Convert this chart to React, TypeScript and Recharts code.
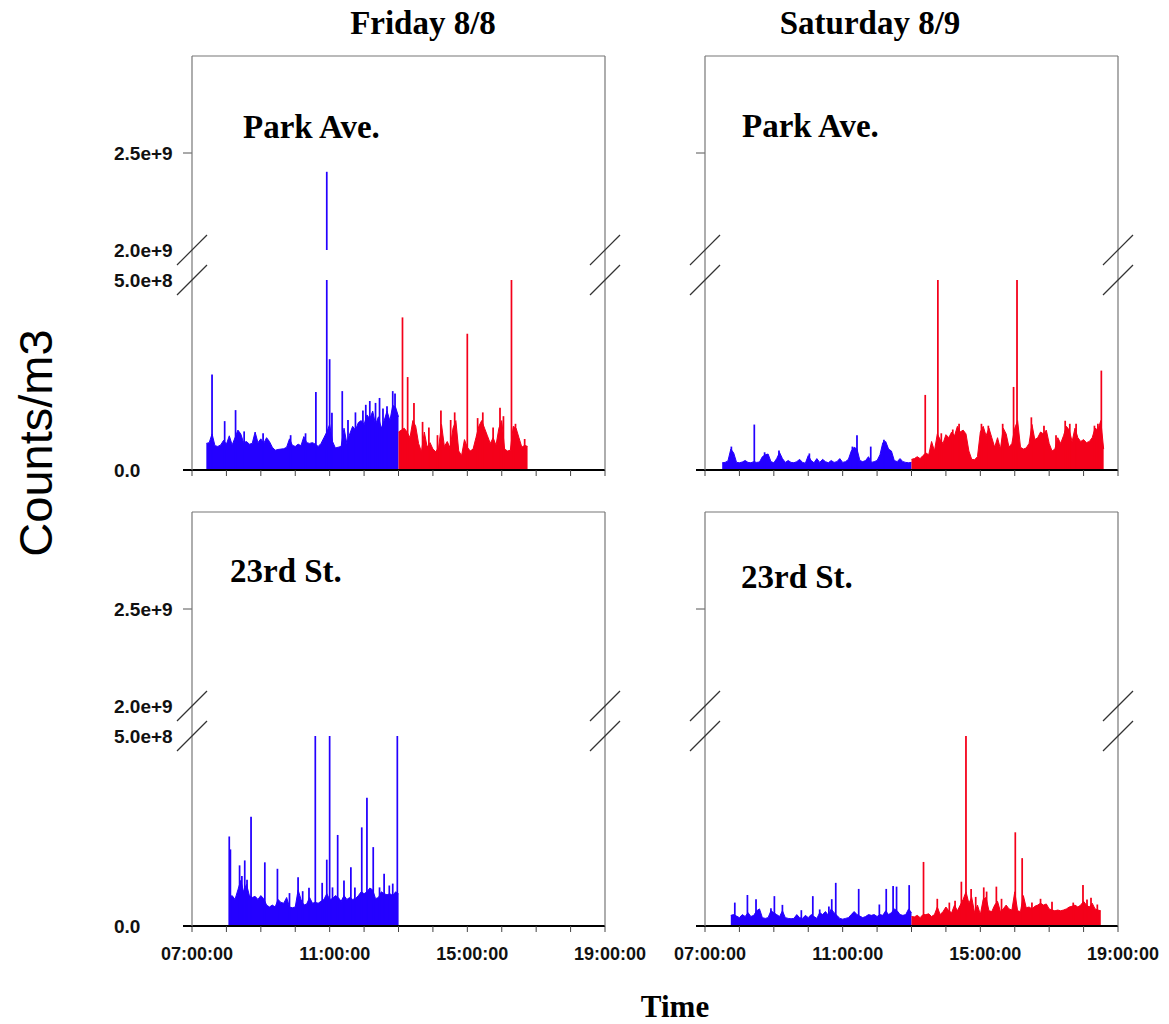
import React from "react";
import { ComposedChart, Area, Bar, XAxis, YAxis } from "recharts";

// values below are in units of 1e8 counts/m3, baselines sampled every 5 minutes
const UNIT = 1e8;
const STEP_MIN = 5;
const HOURS = [7, 8, 9, 10, 11, 12, 13, 14, 15, 16, 17, 18, 19];
const LABELED_HOURS = [7, 11, 15, 19];
const UPPER_TICKS = [2.0e9, 2.5e9];
const LOWER_TICKS = [0, 5.0e8];

// Friday 8/8 - Park Ave.
const friParkBlueStart = "07:25";
const friParkBlue = [
  0.7, 0.72, 0.95, 0.64, 0.62, 0.66, 0.78, 0.68, 0.9, 0.66,
  0.85, 1.05, 0.95, 0.72, 0.75, 0.68, 0.7, 1.0, 0.72, 0.82,
  0.7, 0.85, 0.75, 0.6, 0.52, 0.54, 0.55, 0.56, 0.6, 0.82,
  0.65, 0.62, 0.68, 0.64, 0.88, 0.72, 0.7, 0.72, 0.68, 0.62,
  0.7, 0.85, 1.0, 1.2, 0.75, 0.58, 0.6, 0.62, 1.1, 0.7,
  0.95, 1.15, 1.05, 1.25, 1.3, 1.2, 1.45, 1.35, 1.55, 1.2,
  1.4, 1.1, 1.3, 1.55, 1.3, 1.7, 1.65, 1.4,
];
const friParkRedStart = "13:00";
const friParkRed = [
  1.0, 1.05, 1.1, 1.0, 0.85, 1.3, 1.15, 0.7, 0.48, 1.0,
  0.6, 0.72, 0.55, 0.48, 0.6, 1.2, 0.62, 0.75, 0.58, 1.1,
  1.3, 0.5, 0.38, 0.8, 0.6, 0.5, 0.55, 0.85, 1.15, 1.3,
  1.1, 0.9, 0.7, 0.85, 0.65, 1.1, 1.3, 0.55, 0.5, 0.52,
  1.15, 1.1, 0.85, 0.6, 0.65, 0.62,
];
const friParkBlueSpikeTimes = [
  "07:35", "07:57", "08:16", "08:31", "09:04", "09:52", "10:18", "10:36", "10:55", "11:00",
  "11:04", "11:22", "11:32", "11:45", "11:58", "12:03", "12:10", "12:20", "12:27", "12:33",
  "12:40", "12:50", "12:54",
];
const friParkBlueSpikes = [
  2.5, 1.27, 1.56, 1.0, 0.95, 0.9, 0.95, 2.04, 24.0, 2.9,
  1.49, 2.06, 1.3, 1.5, 1.55, 1.7, 1.8, 1.75, 1.88, 1.6,
  1.66, 2.06, 2.0,
];
const friParkRedSpikeTimes = [
  "13:07", "13:16", "13:27", "13:42", "13:53", "14:08", "14:14", "14:31", "14:38", "15:00",
  "15:18", "15:27", "15:45", "15:57", "16:03", "16:17", "16:24", "16:40",
];
const friParkRedSpikes = [
  4.0, 2.43, 1.75, 1.25, 1.1, 0.9, 1.55, 1.3, 1.5, 3.57,
  1.35, 1.5, 1.1, 1.62, 1.4, 5.2, 1.2, 0.8,
];

// Saturday 8/9 - Park Ave.
const satParkBlueStart = "07:30";
const satParkBlue = [
  0.19, 0.2, 0.24, 0.55, 0.45, 0.2, 0.19, 0.21, 0.25, 0.2,
  0.19, 0.22, 0.2, 0.21, 0.35, 0.4, 0.42, 0.22, 0.19, 0.3,
  0.46, 0.3, 0.2, 0.25, 0.2, 0.19, 0.22, 0.28, 0.2, 0.18,
  0.38, 0.25, 0.19, 0.3, 0.2, 0.28, 0.22, 0.19, 0.25, 0.2,
  0.22, 0.3, 0.2, 0.22, 0.28, 0.5, 0.6, 0.55, 0.25, 0.22,
  0.25, 0.35, 0.2, 0.22, 0.25, 0.4, 0.72, 0.75, 0.55, 0.5,
  0.25, 0.22, 0.3, 0.22, 0.2, 0.19, 0.2,
];
const satParkRedStart = "13:00";
const satParkRed = [
  0.28, 0.3, 0.35, 0.3, 0.38, 0.45, 0.4, 0.75, 0.5, 0.95,
  0.8, 0.7, 0.93, 0.85, 1.0, 0.9, 1.15, 1.0, 1.05, 0.95,
  0.5, 0.28, 0.27, 0.35, 1.0, 1.15, 0.9, 1.1, 0.85, 0.6,
  0.85, 0.55, 1.1, 0.95, 0.6, 0.7, 1.1, 1.3, 0.6, 0.55,
  0.58, 0.7, 1.2, 0.8, 0.85, 1.0, 0.95, 1.05, 0.7, 0.5,
  0.55, 0.85, 0.7, 0.9, 1.15, 1.05, 0.75, 1.1, 0.85, 0.75,
  0.8, 0.72, 0.75, 0.85, 1.1, 1.05, 1.3, 0.55,
];
const satParkBlueSpikeTimes = ["07:46", "08:26", "08:44", "09:09", "10:02", "11:17", "11:25", "11:49", "12:12"];
const satParkBlueSpikes = [0.6, 1.18, 0.45, 0.5, 0.42, 0.6, 0.9, 0.6, 0.78];
const satParkRedSpikeTimes = [
  "13:24", "13:46", "13:52", "14:12", "14:23", "15:02", "15:14", "15:39", "15:58", "16:04",
  "16:29", "16:51", "17:12", "17:28", "17:36", "17:47", "18:19", "18:25", "18:31",
];
const satParkRedSpikes = [
  1.96, 5.2, 0.95, 1.05, 1.2, 1.2, 1.15, 1.2, 2.17, 5.2,
  1.37, 1.15, 0.9, 1.28, 1.2, 1.2, 1.15, 1.2, 2.6,
];

// Friday 8/8 - 23rd St.
const fri23BlueStart = "08:05";
const fri23Blue = [
  0.75, 0.8, 0.7, 0.95, 1.2, 0.9, 1.1, 0.8, 0.75, 0.78,
  0.7, 0.8, 0.72, 0.55, 0.5, 0.55, 0.5, 0.7, 0.62, 0.6,
  0.75, 0.5, 0.48, 0.5, 0.95, 0.7, 0.55, 0.58, 0.75, 0.6,
  0.62, 0.6, 0.65, 0.7, 0.85, 0.7, 0.72, 0.8, 0.75, 0.65,
  0.8, 0.7, 0.75, 0.7, 0.72, 0.8, 0.9, 0.85, 0.9, 1.0,
  0.95, 0.72, 0.75, 0.9, 0.85, 0.82, 0.85, 0.8, 0.9, 0.85,
];
const fri23BlueSpikeTimes = [
  "08:05", "08:07", "08:23", "08:27", "08:32", "08:36", "08:43", "09:07", "09:29", "09:50",
  "10:05", "10:13", "10:24", "10:35", "10:47", "10:55", "11:00", "11:05", "11:14", "11:25",
  "11:37", "11:44", "11:56", "12:05", "12:16", "12:27", "12:35", "12:44", "12:50", "12:58",
];
const fri23BlueSpikes = [
  2.34, 2.0, 1.58, 1.3, 1.71, 1.2, 2.86, 1.66, 1.49, 0.85,
  1.27, 0.9, 0.99, 5.2, 1.12, 1.73, 5.2, 1.0, 2.38, 1.18,
  1.53, 1.0, 2.58, 3.36, 2.06, 1.0, 1.36, 1.05, 1.1, 5.2,
];

// Saturday 8/9 - 23rd St.
const sat23BlueStart = "07:45";
const sat23Blue = [
  0.28, 0.3, 0.26, 0.22, 0.3, 0.25, 0.35, 0.25, 0.28, 0.4,
  0.45, 0.22, 0.2, 0.22, 0.4, 0.35, 0.3, 0.25, 0.4, 0.22,
  0.2, 0.19, 0.2, 0.3, 0.22, 0.2, 0.28, 0.22, 0.3, 0.25,
  0.2, 0.35, 0.3, 0.38, 0.28, 0.45, 0.35, 0.28, 0.2, 0.18,
  0.2, 0.22, 0.3, 0.38, 0.3, 0.26, 0.22, 0.25, 0.3, 0.28,
  0.3, 0.25, 0.3, 0.28, 0.4, 0.3, 0.35, 0.45, 0.4, 0.3,
  0.28, 0.3, 0.45, 0.35,
];
const sat23RedStart = "13:00";
const sat23Red = [
  0.25, 0.24, 0.28, 0.22, 0.3, 0.3, 0.32, 0.25, 0.3, 0.5,
  0.3, 0.38, 0.5, 0.4, 0.35, 0.55, 0.4, 0.55, 0.7, 0.9,
  0.6, 0.75, 0.35, 0.55, 0.3, 0.7, 0.75, 0.4, 0.38, 0.55,
  0.65, 0.38, 0.45, 0.55, 0.45, 0.42, 0.9, 0.4, 0.38, 0.8,
  0.48, 0.5, 0.45, 0.52, 0.55, 0.6, 0.55, 0.58, 0.45, 0.42,
  0.4, 0.42, 0.4, 0.42, 0.45, 0.5, 0.52, 0.55, 0.5, 0.55,
  0.65, 0.55, 0.5, 0.6, 0.45, 0.42, 0.4,
];
const sat23BlueSpikeTimes = [
  "07:52", "08:14", "08:29", "08:55", "09:01", "09:15", "09:48", "10:08", "10:20", "10:36",
  "10:41", "10:48", "11:28", "12:04", "12:16", "12:28", "12:34", "12:56",
];
const sat23BlueSpikes = [
  0.6, 0.8, 0.69, 0.45, 0.77, 0.54, 0.4, 0.77, 0.42, 0.5,
  0.69, 1.12, 0.96, 0.55, 0.96, 1.04, 1.02, 1.06,
];
const sat23RedSpikeTimes = [
  "13:21", "13:45", "14:06", "14:16", "14:27", "14:35", "14:44", "14:52", "15:06", "15:11",
  "15:28", "15:37", "16:01", "16:13", "16:30", "16:45", "17:05", "17:42", "17:59", "18:06",
  "18:13", "18:24",
];
const sat23RedSpikes = [
  1.67, 0.7, 0.6, 0.65, 1.15, 5.2, 0.96, 0.75, 1.0, 0.89,
  1.02, 0.7, 2.45, 1.77, 0.6, 0.7, 0.62, 0.6, 1.06, 0.68,
  0.73, 0.55,
];

const BLUE = "#2400ff";
const RED = "#f4001a";
const FRAME = "#777777";
const SERIF = "'Liberation Serif', 'Times New Roman', serif";
const SANS = "'Liberation Sans', Arial, sans-serif";

// layout
const PLOT_W = 413;
const UPPER_H = 194;
const GAP = 30;
const LOWER_H = 190;
const Y_W = 92;
const PAD = 12;
const RIGHT_PAD = 50;
const X_AXIS_H = 50;

type Row = { t: number; blue?: number; red?: number; blueSpike?: number; redSpike?: number };

const toHours = (s: string) => {
  const [h, m] = s.split(":").map(Number);
  return h + m / 60;
};

function buildRows(
  blueStart: string, blue: number[],
  redStart: string, red: number[],
  blueSpikeTimes: string[], blueSpikes: number[],
  redSpikeTimes: string[], redSpikes: number[]
): Row[] {
  const rows: Row[] = [];
  blue.forEach((v, i) => rows.push({ t: toHours(blueStart) + (i * STEP_MIN) / 60, blue: v * UNIT }));
  red.forEach((v, i) => rows.push({ t: toHours(redStart) + (i * STEP_MIN) / 60, red: v * UNIT }));
  blueSpikeTimes.forEach((s, i) => rows.push({ t: toHours(s), blueSpike: blueSpikes[i] * UNIT }));
  redSpikeTimes.forEach((s, i) => rows.push({ t: toHours(s), redSpike: redSpikes[i] * UNIT }));
  return rows.sort((a, b) => a.t - b.t);
}

const friParkRows = buildRows(friParkBlueStart, friParkBlue, friParkRedStart, friParkRed,
  friParkBlueSpikeTimes, friParkBlueSpikes, friParkRedSpikeTimes, friParkRedSpikes);
const satParkRows = buildRows(satParkBlueStart, satParkBlue, satParkRedStart, satParkRed,
  satParkBlueSpikeTimes, satParkBlueSpikes, satParkRedSpikeTimes, satParkRedSpikes);
const fri23Rows = buildRows(fri23BlueStart, fri23Blue, "13:00", [],
  fri23BlueSpikeTimes, fri23BlueSpikes, [], []);
const sat23Rows = buildRows(sat23BlueStart, sat23Blue, sat23RedStart, sat23Red,
  sat23BlueSpikeTimes, sat23BlueSpikes, sat23RedSpikeTimes, sat23RedSpikes);

const fmtHour = (h: number) => `${String(h).padStart(2, "0")}:00:00`;

function makeYTick(showLabel: boolean) {
  return (props: any) => {
    const { y, payload } = props;
    const v = payload.value as number;
    const label = v === 0 ? "0.0" : v.toExponential(1);
    const withLine = v === 0 || v === 2.5e9;
    return (
      <g>
        {withLine && (
          <line x1={Y_W - 9} x2={Y_W} y1={y} y2={y}
            stroke={v === 0 ? "#000" : "#555"} strokeWidth={v === 0 ? 2 : 1} />
        )}
        {showLabel && (
          <text x={Y_W - 78} y={y} dy="0.36em" textAnchor="start"
            fontFamily={SANS} fontWeight="bold" fontSize={19} fill="#111">
            {label}
          </text>
        )}
      </g>
    );
  };
}

function makeXTick(showLabel: boolean) {
  return (props: any) => {
    const { x, y, payload } = props;
    if (!showLabel || !LABELED_HOURS.includes(payload.value)) return <g />;
    return (
      <text x={x + 5} y={y} dy="0.71em" textAnchor="middle"
        fontFamily={SANS} fontWeight="bold" fontSize={18} fill="#111">
        {fmtHour(payload.value)}
      </text>
    );
  };
}

function renderSeries() {
  return [
    <Area key="blue" type="linear" dataKey="blue" stroke={BLUE} strokeWidth={1} fill={BLUE}
      fillOpacity={1} connectNulls dot={false} activeDot={false} isAnimationActive={false} />,
    <Area key="red" type="linear" dataKey="red" stroke={RED} strokeWidth={1} fill={RED}
      fillOpacity={1} connectNulls dot={false} activeDot={false} isAnimationActive={false} />,
    <Bar key="bs" dataKey="blueSpike" stackId="s" fill={BLUE} stroke={BLUE} strokeWidth={1.2}
      barSize={2} isAnimationActive={false} />,
    <Bar key="rs" dataKey="redSpike" stackId="s" fill={RED} stroke={RED} strokeWidth={1.2}
      barSize={2} isAnimationActive={false} />,
  ];
}

function Panel({ left, top, rows, yLabels, xLabels }: {
  left: number; top: number; rows: Row[]; yLabels: boolean; xLabels: boolean;
}) {
  const w = Y_W + PLOT_W + RIGHT_PAD;
  return (
    <>
      <div style={{ position: "absolute", left: left - Y_W, top: top - PAD }}>
        <ComposedChart width={w} height={UPPER_H + 2 * PAD} data={rows}
          margin={{ top: PAD, right: RIGHT_PAD, bottom: PAD, left: 0 }}>
          <XAxis type="number" dataKey="t" domain={[7, 19]} allowDataOverflow hide />
          <YAxis type="number" domain={[2.0e9, 3.0e9]} allowDataOverflow ticks={UPPER_TICKS}
            interval={0} width={Y_W} axisLine={false} tickLine={false} tick={makeYTick(yLabels)} />
          {renderSeries()}
        </ComposedChart>
      </div>
      <div style={{ position: "absolute", left: left - Y_W, top: top + UPPER_H + GAP - PAD }}>
        <ComposedChart width={w} height={PAD + LOWER_H + X_AXIS_H} data={rows}
          margin={{ top: PAD, right: RIGHT_PAD, bottom: 0, left: 0 }}>
          <XAxis type="number" dataKey="t" domain={[7, 19]} allowDataOverflow ticks={HOURS}
            interval={0} height={X_AXIS_H} tickSize={6} tickMargin={15}
            axisLine={{ stroke: "#000", strokeWidth: 2 }} tickLine={{ stroke: "#444" }}
            tick={makeXTick(xLabels)} />
          <YAxis type="number" domain={[0, 5.0e8]} allowDataOverflow ticks={LOWER_TICKS}
            interval={0} width={Y_W} axisLine={false} tickLine={false} tick={makeYTick(yLabels)} />
          {renderSeries()}
        </ComposedChart>
      </div>
    </>
  );
}

const PANELS = [
  { left: 192, top: 56, rows: friParkRows, yLabels: true, xLabels: false, label: "Park Ave.", lx: 243, ly: 138 },
  { left: 705, top: 56, rows: satParkRows, yLabels: false, xLabels: false, label: "Park Ave.", lx: 742, ly: 137 },
  { left: 192, top: 512, rows: fri23Rows, yLabels: true, xLabels: true, label: "23rd St.", lx: 230, ly: 582 },
  { left: 705, top: 512, rows: sat23Rows, yLabels: false, xLabels: true, label: "23rd St.", lx: 741, ly: 588 },
];

function Frame({ left, top }: { left: number; top: number }) {
  const right = left + PLOT_W;
  const bottom = top + UPPER_H + GAP + LOWER_H;
  const b1 = top + UPPER_H;
  const b2 = b1 + GAP;
  const slash = (cx: number, cy: number, k: string) => (
    <line key={k} x1={cx - 15} y1={cy + 15} x2={cx + 15} y2={cy - 15} stroke="#333" strokeWidth={1.2} />
  );
  return (
    <g>
      <line x1={left} y1={top} x2={right} y2={top} stroke={FRAME} strokeWidth={1.2} />
      <line x1={left} y1={top} x2={left} y2={bottom} stroke={FRAME} strokeWidth={1.2} />
      <line x1={right} y1={top} x2={right} y2={bottom} stroke={FRAME} strokeWidth={1.2} />
      {slash(left, b1, "a")}
      {slash(left, b2, "b")}
      {slash(right, b1, "c")}
      {slash(right, b2, "d")}
    </g>
  );
}

export default function App() {
  return (
    <div style={{ position: "absolute", left: 0, top: 0, width: 1169, height: 1024, background: "#fff" }}>
      {PANELS.map((p, i) => (
        <Panel key={i} left={p.left} top={p.top} rows={p.rows} yLabels={p.yLabels} xLabels={p.xLabels} />
      ))}
      <svg width={1169} height={1024} style={{ position: "absolute", left: 0, top: 0, pointerEvents: "none" }}>
        {PANELS.map((p, i) => (
          <g key={i}>
            <Frame left={p.left} top={p.top} />
            <text x={p.lx} y={p.ly} fontFamily={SERIF} fontWeight="bold" fontSize={33} fill="#000">
              {p.label}
            </text>
          </g>
        ))}
        <text x={423} y={34} textAnchor="middle" fontFamily={SERIF} fontWeight="bold" fontSize={33}>Friday 8/8</text>
        <text x={870} y={34} textAnchor="middle" fontFamily={SERIF} fontWeight="bold" fontSize={33}>Saturday 8/9</text>
        <text x={675} y={1017} textAnchor="middle" fontFamily={SERIF} fontWeight="bold" fontSize={31}>Time</text>
        <text transform="translate(52,443) rotate(-90)" textAnchor="middle" fontFamily={SANS} fontSize={47}>
          Counts/m3
        </text>
      </svg>
    </div>
  );
}
